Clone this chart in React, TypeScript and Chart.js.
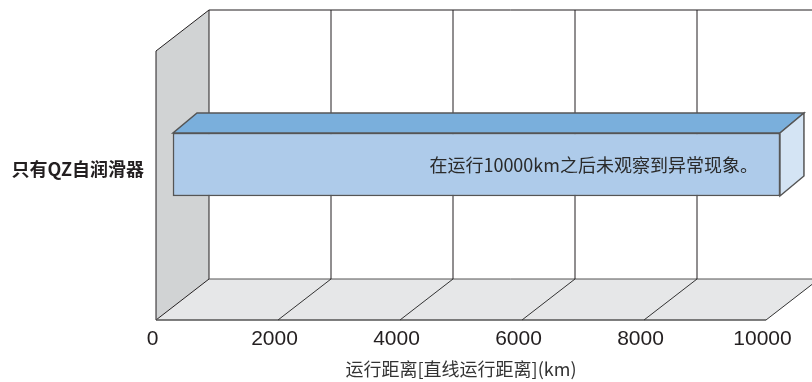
import React, { useEffect, useRef } from 'react';
import { Chart, registerables } from 'chart.js';

Chart.register(...registerables);

// ---- data ----
const categories: string[] = ['只有QZ自润滑器'];
const distanceValues: number[] = [9950];
const xTickValues: number[] = [0, 2000, 4000, 6000, 8000, 10000];
const barNotes: string[] = ['在运行10000km之后未观察到异常现象。'];
const axisTitle = '运行距离[直线运行距离](km)';

// ---- 3D geometry (styling) ----
const DEPTH_DX = 53;
const DEPTH_DY = -41;
const WALL_HEIGHT = 269;
const BAR_SHIFT_X = 17;
const BAR_SHIFT_Y = -13;
const BAR_DEPTH_X = 24;
const BAR_DEPTH_Y = -20;

const CJK = '"Noto Sans CJK SC", "Noto Sans", sans-serif';

function poly(ctx: CanvasRenderingContext2D, pts: number[][]) {
  ctx.beginPath();
  ctx.moveTo(pts[0][0], pts[0][1]);
  for (let i = 1; i < pts.length; i++) ctx.lineTo(pts[i][0], pts[i][1]);
  ctx.closePath();
}

function line(ctx: CanvasRenderingContext2D, x1: number, y1: number, x2: number, y2: number) {
  ctx.beginPath();
  ctx.moveTo(x1, y1);
  ctx.lineTo(x2, y2);
  ctx.stroke();
}

const frame3d = {
  id: 'frame3d',
  beforeDatasetsDraw(chart: any) {
    const { ctx, chartArea, scales } = chart;
    const xs = scales.x;
    const W = chart.width;
    const x0 = xs.getPixelForValue(xTickValues[0]);
    const x1 = xs.getPixelForValue(xTickValues[xTickValues.length - 1]);
    const yF = chartArea.bottom;
    const yT = yF - WALL_HEIGHT;
    const dx = DEPTH_DX, dy = DEPTH_DY;
    ctx.save();
    // side wall
    ctx.fillStyle = '#d1d3d4';
    poly(ctx, [[x0, yT], [x0 + dx, yT + dy], [x0 + dx, yF + dy], [x0, yF]]);
    ctx.fill();
    // floor
    ctx.fillStyle = '#e6e7e8';
    poly(ctx, [[x0, yF], [x1, yF], [x1 + dx, yF + dy], [x0 + dx, yF + dy]]);
    ctx.fill();
    // lines
    ctx.strokeStyle = '#231f20';
    ctx.lineWidth = 1;
    line(ctx, x0, yT, x0, yF);
    line(ctx, x0, yT, x0 + dx, yT + dy);
    line(ctx, x0 + dx, yT + dy, x0 + dx, yF + dy);
    line(ctx, x0 + dx, yT + dy, W, yT + dy);
    line(ctx, x0, yF, x0 + dx, yF + dy);
    ctx.strokeStyle = '#555';
    line(ctx, x0 + dx, yF + dy, W, yF + dy);
    ctx.lineWidth = 1.5;
    line(ctx, x0, yF, x1, yF);
    ctx.lineWidth = 1;
    for (let i = 1; i < xTickValues.length; i++) {
      const px = xs.getPixelForValue(xTickValues[i]);
      ctx.strokeStyle = '#333';
      line(ctx, px, yF, px + dx, yF + dy);
      ctx.strokeStyle = '#231f20';
      line(ctx, px + dx, yT + dy, px + dx, yF + dy);
    }
    ctx.restore();
  },
  beforeDatasetDraw(chart: any) {
    const ctx = chart.ctx;
    ctx.save();
    ctx.translate(BAR_SHIFT_X, BAR_SHIFT_Y);
  },
  afterDatasetDraw(chart: any, args: any) {
    const ctx = chart.ctx;
    const meta = args.meta;
    meta.data.forEach((el: any, i: number) => {
      const p = el.getProps(['x', 'y', 'base', 'height'], true);
      const left = Math.min(p.base, p.x);
      const right = Math.max(p.base, p.x);
      const top = p.y - p.height / 2;
      const bot = p.y + p.height / 2;
      const ddx = BAR_DEPTH_X, ddy = BAR_DEPTH_Y;
      ctx.lineWidth = 1.5;
      ctx.strokeStyle = '#555';
      ctx.lineJoin = 'miter';
      // top face
      ctx.fillStyle = '#7aafdc';
      poly(ctx, [[left, top], [right, top], [right + ddx, top + ddy], [left + ddx, top + ddy]]);
      ctx.fill();
      ctx.stroke();
      // side face
      ctx.fillStyle = '#d4e4f4';
      poly(ctx, [[right, top], [right + ddx, top + ddy], [right + ddx, bot + ddy], [right, bot]]);
      ctx.fill();
      ctx.stroke();
      // note text
      const note = barNotes[i];
      if (note) {
        ctx.fillStyle = '#2a2a2a';
        ctx.font = '18px ' + CJK;
        ctx.textAlign = 'right';
        ctx.textBaseline = 'middle';
        ctx.fillText(note, right - 22, p.y + 1);
      }
    });
    ctx.restore();
  },
};

export default function App() {
  const ref = useRef<HTMLCanvasElement | null>(null);
  useEffect(() => {
    if (!ref.current) return;
    const chart = new Chart(ref.current, {
      type: 'bar',
      data: {
        labels: categories,
        datasets: [
          {
            data: distanceValues,
            backgroundColor: '#aecbea',
            borderColor: '#555',
            borderWidth: 1.5,
            borderSkipped: false,
            barThickness: 63,
            clip: false as any,
          },
        ],
      },
      options: {
        indexAxis: 'y',
        animation: false,
        responsive: false,
        devicePixelRatio: 1,
        layout: { padding: { top: 35, right: 46, left: 0, bottom: 0 } },
        plugins: { legend: { display: false }, tooltip: { enabled: false } },
        scales: {
          x: {
            type: 'linear',
            min: xTickValues[0],
            max: xTickValues[xTickValues.length - 1],
            afterBuildTicks: (scale: any) => {
              scale.ticks = xTickValues.map((v) => ({ value: v }));
            },
            grid: { display: false, drawTicks: false },
            border: { display: false },
            ticks: {
              padding: 7,
              labelOffset: -3.5,
              color: '#231f20',
              font: { family: '"Liberation Sans", Arial, sans-serif', size: 21 },
              callback: (v: any) => String(v),
            },
            title: {
              display: true,
              text: axisTitle,
              color: '#333',
              font: { family: CJK, size: 18 },
              padding: { top: 0, bottom: 2 },
            },
            afterFit: (scale: any) => {
              scale.height = 62;
            },
          },
          y: {
            type: 'category',
            grid: { display: false, drawTicks: false },
            border: { display: false },
            ticks: {
              padding: 12,
              labelOffset: -8,
              color: '#231f20',
              font: { family: CJK, size: 18, weight: 'bold' },
            },
            afterFit: (scale: any) => {
              scale.width = 156;
            },
          },
        },
      } as any,
      plugins: [frame3d],
    });
    return () => chart.destroy();
  }, []);
  return (
    <div style={{ position: 'fixed', left: 0, top: 0, width: 812, height: 382, background: '#fff' }}>
      <canvas ref={ref} width={812} height={382} style={{ display: 'block', width: 812, height: 382 }} />
    </div>
  );
}
